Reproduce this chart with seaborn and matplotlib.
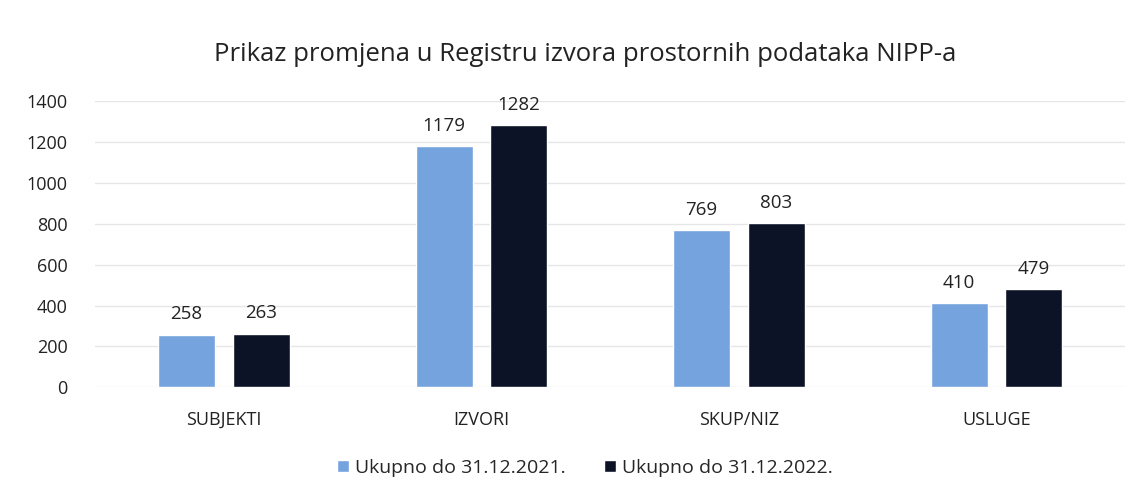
import matplotlib
matplotlib.use("Agg")
import matplotlib.pyplot as plt
import seaborn as sns
import pandas as pd

categories = ["SUBJEKTI", "IZVORI", "SKUP/NIZ", "USLUGE"]
series_names = ["Ukupno do 31.12.2021.", "Ukupno do 31.12.2022."]
values_2021 = [258, 1179, 769, 410]
values_2022 = [263, 1282, 803, 479]
colors = ["#75A3DE", "#0C1326"]

df = pd.DataFrame({
    "kategorija": categories * 2,
    "serija": [series_names[0]] * 4 + [series_names[1]] * 4,
    "vrijednost": values_2021 + values_2022,
})

sns.set_theme(style="white")
plt.rcParams["font.family"] = ["Open Sans", "DejaVu Sans"]

fig = plt.figure(figsize=(11.47, 4.99), dpi=100)
ax = fig.add_axes([0.083, 0.224, 0.898, 0.573])

sns.barplot(data=df, x="kategorija", y="vrijednost", hue="serija",
            palette=colors, width=0.58, gap=0.234, ax=ax, saturation=1)

ax.set_ylim(0, 1400)
ax.set_yticks(range(0, 1401, 200))
ax.yaxis.grid(True, color="#E6E6E6", linewidth=1)
ax.set_axisbelow(True)
for s in ax.spines.values():
    s.set_visible(False)
ax.set_xlabel("")
ax.set_ylabel("")
ax.tick_params(axis="both", length=0, labelsize=13, colors="#222222")
ax.tick_params(axis="x", pad=17)
ax.tick_params(axis="y", pad=20)

for cont in ax.containers:
    ax.bar_label(cont, padding=8, fontsize=13.5, color="#222222")

ax.get_legend().remove()
fig.text(0.51, 0.89, "Prikaz promjena u Registru izvora prostornih podataka NIPP-a",
         fontsize=18.5, color="#222222", ha="center", va="center")

handles, labels = ax.get_legend_handles_labels()
fig.legend(handles, labels, loc="center", bbox_to_anchor=(0.51, 0.062),
           ncol=2, frameon=False, fontsize=14, handlelength=0.6, handleheight=0.6,
           handletextpad=0.3, columnspacing=2.0)

fig.savefig("out.png", dpi=100)
